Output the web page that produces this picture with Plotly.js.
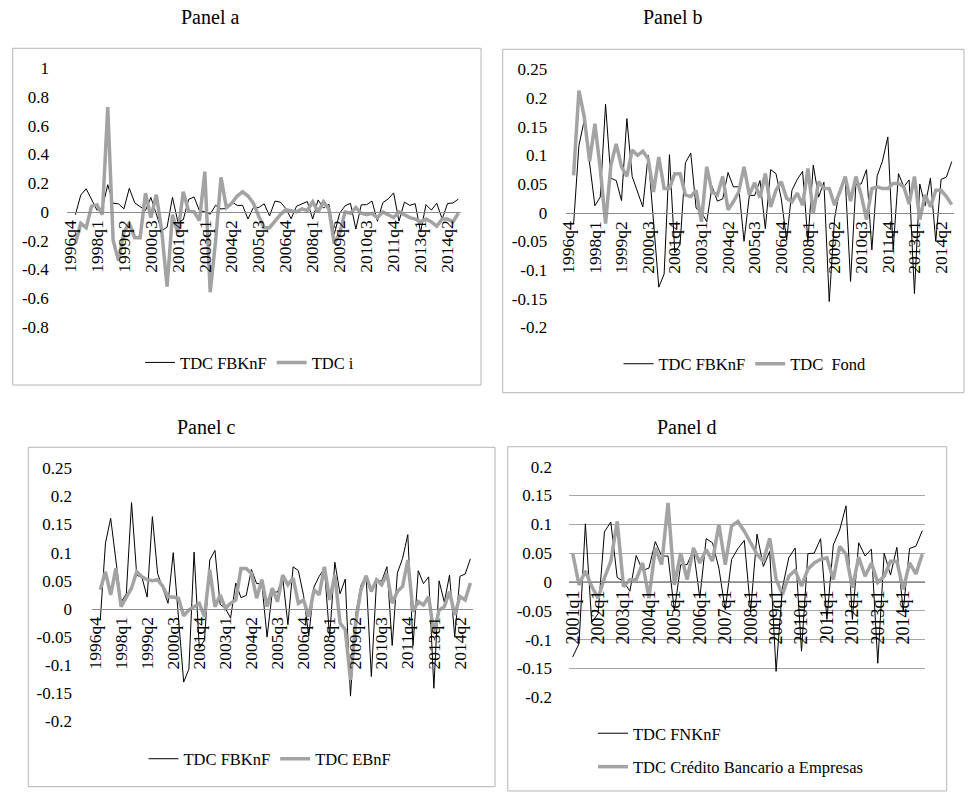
<!DOCTYPE html>
<html>
<head>
<meta charset="utf-8">
<script src="https://cdn.plot.ly/plotly-3.0.1.min.js"></script>
<style>html,body{margin:0;padding:0;background:#fff;}#chart{width:971px;height:798px;}</style>
</head>
<body>
<div id="chart"></div>
<script>
// ---------- categories ----------
const quarters = [
 "1996q4",
 "1997q1","1997q2","1997q3","1997q4",
 "1998q1","1998q2","1998q3","1998q4",
 "1999q1","1999q2","1999q3","1999q4",
 "2000q1","2000q2","2000q3","2000q4",
 "2001q1","2001q2","2001q3","2001q4",
 "2002q1","2002q2","2002q3","2002q4",
 "2003q1","2003q2","2003q3","2003q4",
 "2004q1","2004q2","2004q3","2004q4",
 "2005q1","2005q2","2005q3","2005q4",
 "2006q1","2006q2","2006q3","2006q4",
 "2007q1","2007q2","2007q3","2007q4",
 "2008q1","2008q2","2008q3","2008q4",
 "2009q1","2009q2","2009q3","2009q4",
 "2010q1","2010q2","2010q3","2010q4",
 "2011q1","2011q2","2011q3","2011q4",
 "2012q1","2012q2","2012q3","2012q4",
 "2013q1","2013q2","2013q3","2013q4",
 "2014q1","2014q2","2014q3","2014q4"
];
const quartersD = quarters.slice(17); // 2001q1 .. 2014q4

// ---------- tick labels ----------
const ticksABC = ["1996q4","1998q1","1999q2","2000q3","2001q4","2003q1","2004q2","2005q3","2006q4","2008q1","2009q2","2010q3","2011q4","2013q1","2014q2"];
const ticksD = ["2001q1","2002q1","2003q1","2004q1","2005q1","2006q1","2007q1","2008q1","2009q1","2010q1","2011q1","2012q1","2013q1","2014q1"];
const yTickValsA = [-0.8,-0.6,-0.4,-0.2,0,0.2,0.4,0.6,0.8,1];
const yTickTextA = ["-0.8","-0.6","-0.4","-0.2","0","0.2","0.4","0.6","0.8","1"];
const yTickValsBC = [-0.2,-0.15,-0.1,-0.05,0,0.05,0.1,0.15,0.2,0.25];
const yTickTextBC = ["-0.2","-0.15","-0.1","-0.05","0","0.05","0.1","0.15","0.2","0.25"];
const yTickValsD = [-0.2,-0.15,-0.1,-0.05,0,0.05,0.1,0.15,0.2];
const yTickTextD = ["-0.2","-0.15","-0.1","-0.05","0","0.05","0.1","0.15","0.2"];

// ---------- series ----------
const tdcFBKnF = [null,
 -0.02,0.117,0.161,0.088,0.012,0.027,0.189,0.06,0.056,0.021,
 0.164,0.063,0.037,0.01,0.1,-0.02,-0.13,-0.107,0.101,-0.07,
 -0.055,0.087,0.104,0.008,0.001,-0.016,0.046,0.02,0.024,0.07,
 0.045,0.045,-0.05,0.03,0.03,0.056,-0.028,0.075,0.068,0.024,
 -0.048,0.039,0.058,0.072,-0.05,0.083,0.027,0.053,-0.155,-0.01,
 0.042,0.059,-0.12,0.049,0.05,0.075,-0.065,0.064,0.09,0.132,
 -0.065,0.068,0.045,0.057,-0.141,0.05,0.012,0.06,-0.05,0.058,
 0.062,0.089];

const tdcI = [null,
 -0.22,-0.08,-0.11,0.04,0.05,-0.02,0.73,-0.2,-0.34,-0.14,
 -0.08,-0.18,-0.18,0.13,-0.04,0.12,-0.13,-0.52,-0.02,-0.15,
 0.14,0.005,0.0,-0.06,0.28,-0.56,-0.2,0.24,0.03,0.06,
 0.11,0.14,0.11,0.06,-0.03,-0.11,-0.11,-0.065,-0.02,0.015,
 0.01,0.0,0.02,0.01,0.07,0.0,0.07,0.02,-0.22,-0.15,
 0.0,-0.01,0.03,-0.01,-0.02,-0.01,-0.04,0.0,-0.02,-0.04,
 0.0,-0.02,-0.04,-0.05,-0.07,-0.05,-0.07,-0.1,-0.05,-0.05,
 -0.07,-0.01];

const tdcFond = [null,
 0.065,0.213,0.167,0.089,0.155,0.077,-0.019,0.083,0.12,0.08,
 0.063,0.109,0.1,0.107,0.094,0.036,0.097,0.042,0.042,0.068,
 0.068,0.031,0.028,0.039,-0.016,0.08,0.036,0.031,0.063,0.005,
 0.019,0.036,0.08,0.031,0.052,0.026,0.068,0.01,0.039,0.054,
 0.025,0.019,0.034,0.013,0.077,-0.001,0.054,0.042,0.042,0.013,
 0.036,0.063,0.02,0.063,0.031,-0.012,0.042,0.045,0.042,0.042,
 0.051,0.051,0.045,0.015,0.063,-0.012,0.031,0.01,0.039,0.039,
 0.028,0.014];

const tdcEBnF = [null,
 0.034,0.066,0.025,0.072,0.004,0.022,0.037,0.066,0.057,0.052,
 0.05,0.052,0.04,0.021,0.021,0.019,-0.012,-0.002,0.004,0.01,
 -0.014,0.07,0.004,0.025,0.001,0.01,0.016,0.072,0.072,0.063,
 0.019,0.052,0.004,0.037,0.013,0.06,0.043,0.055,0.01,0.016,
 -0.014,0.034,0.025,0.075,0.016,0.06,-0.025,-0.037,-0.126,-0.025,
 0.034,0.059,0.031,0.052,0.043,0.063,0.01,0.031,0.04,0.087,
 -0.005,0.013,0.007,0.022,-0.043,-0.002,0.004,0.031,-0.011,0.022,
 0.016,0.046];

const tdcFNKnF = tdcFBKnF.slice(17); // same quarterly series, 2001q1 onward

const tdcCredito = [
 0.05,-0.005,0.019,-0.008,-0.028,0.007,0.036,0.105,-0.008,0.004,
 0.004,0.033,-0.028,0.059,0.03,0.137,-0.005,0.05,0.004,0.059,
 0.033,0.056,0.036,0.1,0.03,0.097,0.105,0.088,0.068,0.048,
 0.036,0.076,0.005,-0.022,0.01,0.02,-0.007,0.022,0.033,0.039,
 0.042,0.004,0.062,0.048,-0.01,0.043,0.01,0.033,-0.001,0.01,
 0.036,0.036,-0.013,0.033,0.014,0.048];

// ---------- styles ----------
const FONT = 'Liberation Serif';
const BLACK = {color:'#000000', width:1};
const GRAY = {color:'#a3a3a3', width:3.5};
const TXT = '#000000';

const traces = [
 {x:quarters, y:tdcFBKnF, type:'scatter', mode:'lines', name:'TDC FBKnF', line:BLACK, xaxis:'x', yaxis:'y', legend:'legend'},
 {x:quarters, y:tdcI, type:'scatter', mode:'lines', name:'TDC i', line:GRAY, xaxis:'x', yaxis:'y', legend:'legend'},
 {x:quarters, y:tdcFBKnF, type:'scatter', mode:'lines', name:'TDC FBKnF', line:BLACK, xaxis:'x2', yaxis:'y2', legend:'legend2'},
 {x:quarters, y:tdcFond, type:'scatter', mode:'lines', name:'TDC\u00a0 Fond', line:GRAY, xaxis:'x2', yaxis:'y2', legend:'legend2'},
 {x:quarters, y:tdcFBKnF, type:'scatter', mode:'lines', name:'TDC FBKnF', line:BLACK, xaxis:'x3', yaxis:'y3', legend:'legend3'},
 {x:quarters, y:tdcEBnF, type:'scatter', mode:'lines', name:'TDC EBnF', line:GRAY, xaxis:'x3', yaxis:'y3', legend:'legend3'},
 {x:quartersD, y:tdcFNKnF, type:'scatter', mode:'lines', name:'TDC FNKnF', line:BLACK, xaxis:'x4', yaxis:'y4', legend:'legend4', legendgroup:'d1'},
 {x:quartersD, y:tdcCredito, type:'scatter', mode:'lines', name:'TDC Crédito Bancario a Empresas', line:GRAY, xaxis:'x4', yaxis:'y4', legend:'legend4', legendgroup:'d2'}
];

function xAx(dom, pos, n, tv, fs){
  return {domain:dom, type:'category', range:[-0.5, n-0.5], anchor:'free', position:pos,
    showline:true, linecolor:'#8c8c8c', linewidth:1, showgrid:false, zeroline:false,
    tickmode:'array', tickvals:tv, ticktext:tv, tickangle:-90, ticks:'',
    tickfont:{family:FONT, size:fs, color:TXT}, fixedrange:true};
}
function yAx(dom, rng, tv, tt, anchor, len, grid){
  return {domain:dom, range:rng, anchor:anchor, showline:false, zeroline:false,
    showgrid:!!grid, gridcolor:'#a6a6a6', gridwidth:1,
    tickmode:'array', tickvals:tv, ticktext:tt, ticks:'outside', ticklen:len, tickcolor:'rgba(0,0,0,0)',
    tickfont:{family:FONT, size:17, color:TXT}, fixedrange:true};
}
function leg(x, y, xa, ya, orient, gap, order){
  return {x:x, y:y, xanchor:xa, yanchor:ya, orientation:orient, bgcolor:'rgba(0,0,0,0)',
    font:{family:FONT, size:16.5, color:TXT}, itemwidth:30, tracegroupgap:gap||0, traceorder:order||'normal'};
}
function box(x0,x1,y0,y1){
  return {type:'rect', xref:'paper', yref:'paper', x0:x0, x1:x1, y0:y0, y1:y1, line:{color:'#b4b4b4', width:1}, fillcolor:'rgba(0,0,0,0)', layer:'below'};
}
function title(t, x, y){
  return {text:t, xref:'paper', yref:'paper', x:x, y:y, xanchor:'center', yanchor:'middle', showarrow:false,
    font:{family:FONT, size:20, color:TXT}};
}

const layout = {
  width:971, height:798, margin:{l:0, r:0, t:0, b:0},
  font:{family:FONT, color:TXT},
  paper_bgcolor:'#ffffff', plot_bgcolor:'rgba(0,0,0,0)',
  showlegend:true, hovermode:false,
  xaxis:  xAx([0.0693,0.4748], 0.734, 73, ticksABC, 17.5),
  yaxis:  yAx([0.5906,0.9144], [-0.8,1], yTickValsA, yTickTextA, 'x', 14),
  xaxis2: xAx([0.5825,0.9829], 0.7327, 73, ticksABC, 17.5),
  yaxis2: yAx([0.5898,0.9132], [-0.2,0.25], yTickValsBC, yTickTextBC, 'x2', 14),
  xaxis3: xAx([0.0952,0.4871], 0.2368, 73, ticksABC, 17.5),
  yaxis3: yAx([0.0959,0.4132], [-0.2,0.25], yTickValsBC, yTickTextBC, 'x3', 16),
  xaxis4: xAx([0.5865,0.9531], 0.2703, 56, ticksD, 18),
  yaxis4: yAx([0.1262,0.4152], [-0.2,0.2], yTickValsD, yTickTextD, 'x4', 13, true),
  legend:  leg(0.257, 1-362.7/798, 'center', 'middle', 'h'),
  legend2: leg(745/971, 1-364/798, 'center', 'middle', 'h'),
  legend3: leg(270/971, 1-759/798, 'center', 'middle', 'h'),
  legend4: leg(593/971, 1-716/798, 'left', 'top', 'v', 9, 'grouped'),
  shapes: [
    box(0.0131,0.4954,0.5175,0.9395),
    box(0.5177,0.9928,0.5079,0.9382),
    box(0.0291,0.5098,0.0142,0.4395),
    box(0.5229,0.9750,0.0088,0.4402)
  ],
  annotations: [
    title('Panel a', 210/971, 1-17/798),
    title('Panel b', 672/971, 1-17/798),
    title('Panel c', 206/971, 1-427/798),
    title('Panel d', 686/971, 1-427/798)
  ]
};

Plotly.newPlot('chart', traces, layout, {displayModeBar:false, staticPlot:true});
</script>
</body>
</html>
